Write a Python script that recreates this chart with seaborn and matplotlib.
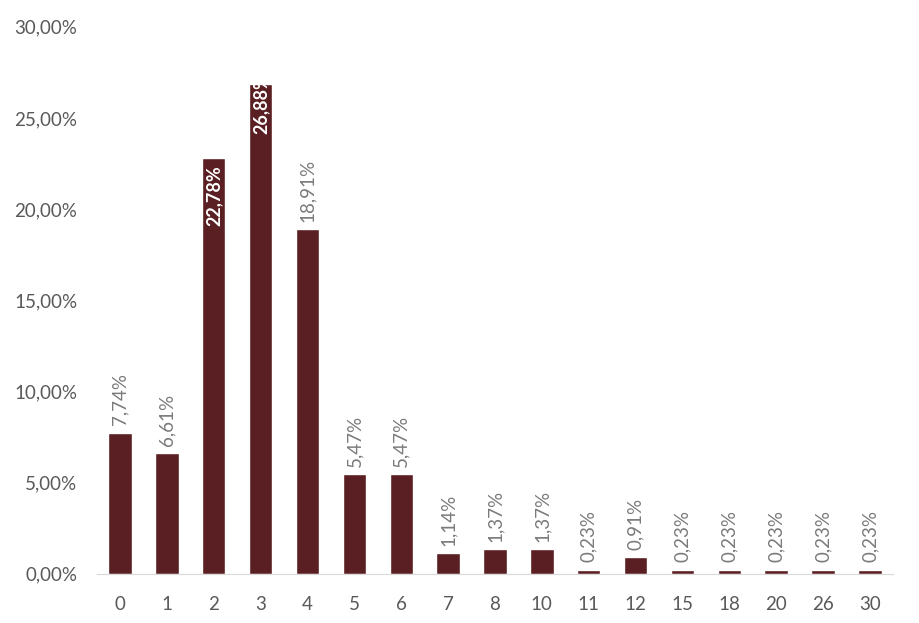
import matplotlib
matplotlib.use("Agg")
import matplotlib.pyplot as plt
import pandas as pd
import seaborn as sns

categories = ["0", "1", "2", "3", "4", "5", "6", "7", "8", "10", "11", "12", "15", "18", "20", "26", "30"]
shares = [7.74, 6.61, 22.78, 26.88, 18.91, 5.47, 5.47, 1.14, 1.37, 1.37, 0.23, 0.91, 0.23, 0.23, 0.23, 0.23, 0.23]
inside_labels = ["2", "3"]

bar_color = "#5a1f22"
tick_color = "#595959"
label_color = "#7a7a7a"

sns.set_style("white")
plt.rcParams["font.family"] = ["Lato", "DejaVu Sans"]

df = pd.DataFrame({"cat": categories, "share": shares})

fig = plt.figure(figsize=(9.2, 6.23), dpi=100)
ax = fig.add_axes([0.105, 0.079, 0.866, 0.878])
sns.barplot(data=df, x="cat", y="share", color=bar_color, saturation=1, width=0.5, ax=ax)

ax.set_ylim(0, 30)
ax.set_xlim(-0.5, len(categories) - 0.5)
ax.set_yticks(range(0, 31, 5))
ax.set_yticklabels([f"{v},00%" for v in range(0, 31, 5)])
ax.set_xlabel("")
ax.set_ylabel("")
ax.tick_params(axis="both", length=0, labelsize=13.5, colors=tick_color)
ax.tick_params(axis="x", pad=16)
ax.tick_params(axis="y", pad=14)

for s in ["top", "right", "left"]:
    ax.spines[s].set_visible(False)
ax.spines["bottom"].set_color("#d9d9d9")

for bar, cat, val in zip(ax.patches, categories, shares):
    label = f"{val:.2f}%".replace(".", ",")
    x = bar.get_x() + bar.get_width() / 2
    if cat in inside_labels:
        # near the top of the axis the label runs past the bar end and gets cut
        y = val + 0.6 if val > 25 else val - 0.35
        t = ax.text(x, y, label, rotation=90, ha="center", va="top",
                    color="white", fontsize=13, fontweight="bold")
        t.set_clip_path(bar)
    else:
        ax.text(x, val + 0.4, label, rotation=90, ha="center", va="bottom",
                color=label_color, fontsize=13.5)

fig.savefig("out.png", dpi=100)
